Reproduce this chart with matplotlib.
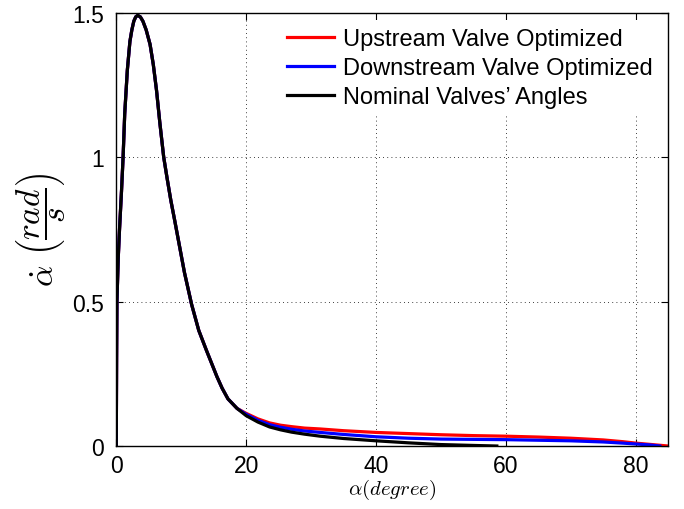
#!/usr/bin/env python3
"""Angular velocity vs. valve angle for three valve settings."""

import matplotlib

matplotlib.use("Agg")
import matplotlib.pyplot as plt

# shared rise / peak / decay (all three curves overlap here)
ALPHA_COMMON = [0.0, 0.05, 0.1, 0.3, 0.5, 0.8, 1.05, 1.3, 1.7, 2.1, 2.4,
                2.7, 3.0, 3.3, 3.7, 4.1, 4.6, 5.2, 5.7, 6.2, 6.7, 7.3, 7.8,
                8.4, 9.0, 9.5, 10.5, 11.6, 12.7, 13.9, 14.7, 15.5, 16.3,
                17.2, 18.6]
RATE_COMMON = [0.0, 0.3, 0.5, 0.65, 0.75, 0.88, 1.0, 1.15, 1.30, 1.40, 1.44,
               1.47, 1.485, 1.49, 1.485, 1.47, 1.44, 1.39, 1.32, 1.23, 1.12,
               1.0, 0.93, 0.85, 0.78, 0.72, 0.60, 0.49, 0.40, 0.33, 0.285,
               0.24, 0.20, 0.163, 0.13]

# tails after ~20 degrees
ALPHA_UP = [20, 21.8, 23.6, 25.3, 27, 29, 31.4, 35, 40, 45, 50, 55, 60, 65,
            70, 75, 78, 80, 82.5, 85]
RATE_UP = [0.113, 0.094, 0.080, 0.072, 0.067, 0.062, 0.059, 0.053, 0.047,
           0.043, 0.039, 0.036, 0.034, 0.031, 0.027, 0.021, 0.015, 0.010,
           0.005, 0.0]

ALPHA_DOWN = [20, 21.8, 23.6, 25.3, 27, 29, 31.4, 35, 40, 45, 50, 55, 60, 65,
              70, 75, 78, 80, 82, 83.7]
RATE_DOWN = [0.110, 0.089, 0.074, 0.065, 0.058, 0.052, 0.047, 0.040, 0.032,
             0.027, 0.024, 0.023, 0.022, 0.020, 0.018, 0.014, 0.010, 0.007,
             0.004, 0.0]

ALPHA_NOM = [20, 21.8, 23.6, 25.3, 27, 29, 31.4, 35, 40, 45, 50, 55, 58.6]
RATE_NOM = [0.105, 0.083, 0.066, 0.056, 0.048, 0.041, 0.034, 0.026, 0.018,
            0.011, 0.005, 0.002, 0.0]

SERIES = [
    ("Upstream Valve Optimized", "#ff0000", ALPHA_UP, RATE_UP),
    ("Downstream Valve Optimized", "#0000ff", ALPHA_DOWN, RATE_DOWN),
    ("Nominal Valves\u2019 Angles", "#000000", ALPHA_NOM, RATE_NOM),
]

X_TICKS = [0, 20, 40, 60, 80]
Y_TICKS = [0, 0.5, 1, 1.5]
Y_TICK_LABELS = ["0", "0.5", "1", "1.5"]


def main() -> None:
    plt.rcParams.update({
        "font.family": ["Liberation Sans", "DejaVu Sans"],
        "mathtext.fontset": "cm",
    })

    fig = plt.figure(figsize=(6.84, 5.10), dpi=100)
    ax = fig.add_axes([0.170, 0.1235, 0.807, 0.850])

    for label, color, xs, ys in SERIES:
        ax.plot(ALPHA_COMMON + xs, RATE_COMMON + ys, color=color,
                linewidth=2.3, label=label, solid_joinstyle="round")

    ax.set_xlim(0, 85)
    ax.set_ylim(0, 1.5)
    ax.set_xticks(X_TICKS)
    ax.set_yticks(Y_TICKS)
    ax.set_yticklabels(Y_TICK_LABELS)
    ax.tick_params(direction="in", length=5, width=0.8, labelsize=16.5,
                   top=True, right=True)
    ax.tick_params(axis="y", pad=9)
    ax.tick_params(axis="x", pad=6)
    ax.grid(True, linestyle=(0, (1, 4)), color="black", linewidth=0.6)
    for spine in ax.spines.values():
        spine.set_linewidth(1.0)

    ax.set_xlabel(r"$\alpha(degree)$", fontsize=15, labelpad=0)
    ax.set_ylabel(r"$\dot{\alpha}\ \left(\dfrac{rad}{s}\right)$", fontsize=24,
                  labelpad=3)

    leg = ax.legend(loc="upper right", fontsize=17, frameon=True,
                    framealpha=1.0, edgecolor="white", handlelength=2.0,
                    handletextpad=0.4, labelspacing=0.3,
                    borderaxespad=0.3, borderpad=0.35)
    leg.get_frame().set_linewidth(0)

    fig.savefig("out.png", dpi=100, facecolor="white")
    plt.close(fig)


if __name__ == "__main__":
    main()
